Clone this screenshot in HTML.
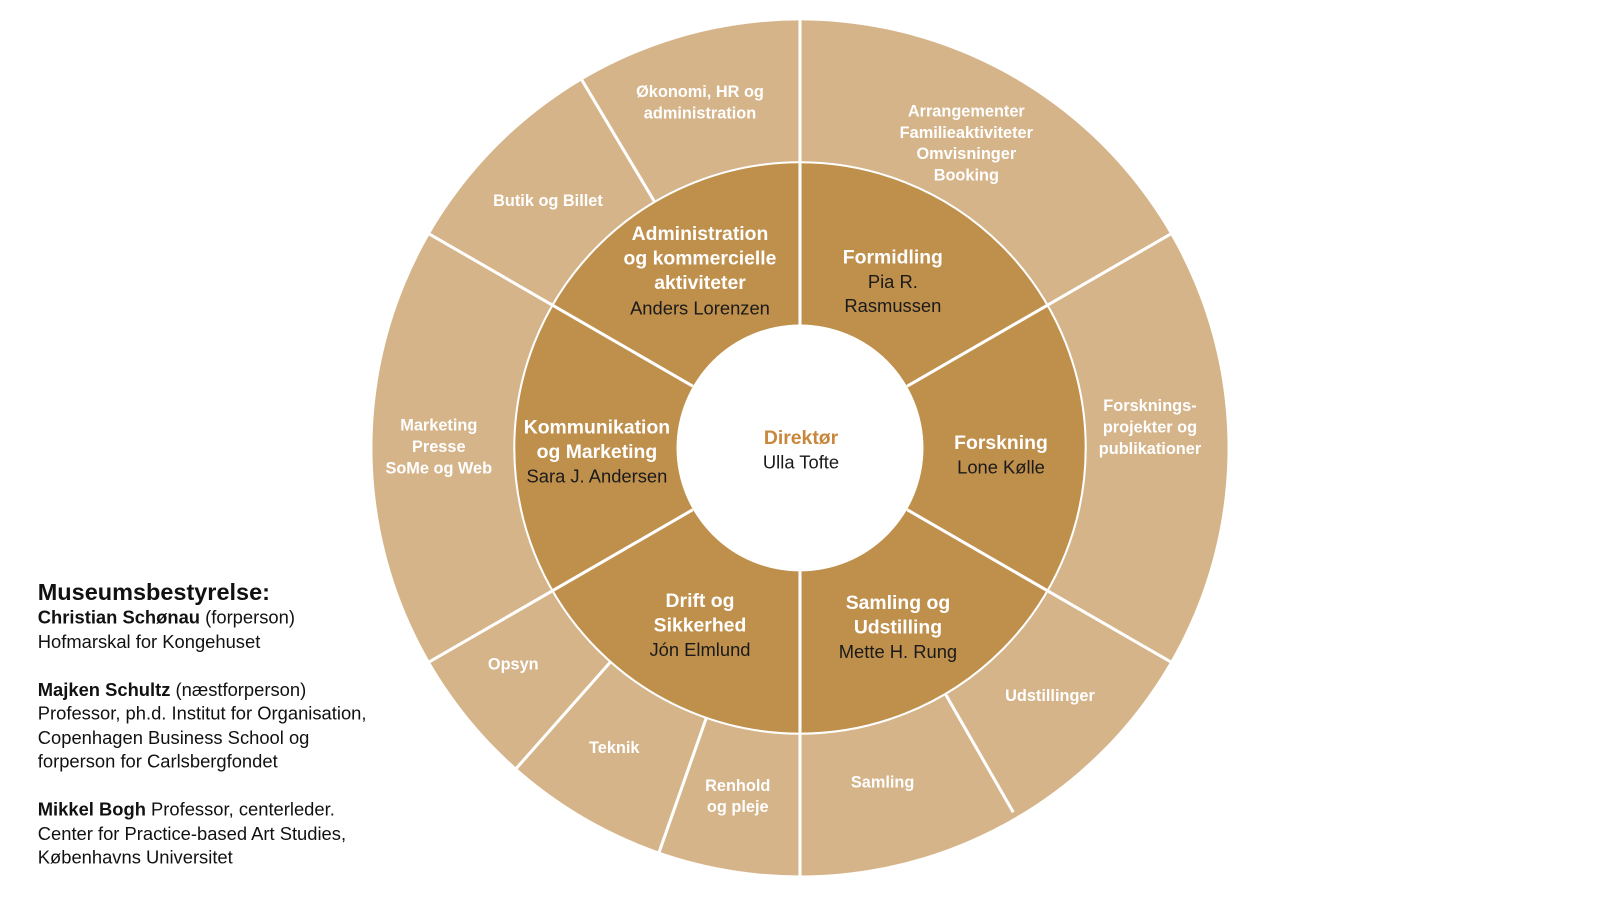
<!DOCTYPE html>
<html><head><meta charset="utf-8"><style>
body{margin:0;width:1600px;height:900px;background:#fff;overflow:hidden;font-family:"Liberation Sans",sans-serif}
#wrap{position:absolute;left:0;top:0;width:1568px;height:882px;transform:scale(1.0204);transform-origin:0 0}
svg{position:absolute;left:0;top:0}
.o{fill:#fff;font-weight:bold;font-size:16px;text-anchor:middle}
.m{fill:#fff;font-weight:bold;font-size:19px;text-anchor:middle}
.n{fill:#1a1a1a;font-size:18px;text-anchor:middle}
#board{position:absolute;left:37px;top:566px;font-size:18px;line-height:23.5px;color:#111}
</style></head><body><div id="wrap">
<svg width="1568" height="882" viewBox="0 0 1568 882">
<circle cx="784" cy="439" r="419" fill="#d5b48a"/>
<circle cx="784" cy="439" r="280" fill="#bf8f4c" stroke="#fff" stroke-width="2"/>
<circle cx="784" cy="439" r="121" fill="#fff"/>
<g stroke="#fff" stroke-width="3">
<line x1="784" y1="318" x2="784" y2="18"/>
<line x1="784" y1="560" x2="784" y2="860"/>
<line x1="889" y1="378.5" x2="1147" y2="229.5"/>
<line x1="889" y1="499.5" x2="1147" y2="648.5"/>
<line x1="679" y1="378.5" x2="421" y2="229.5"/>
<line x1="679" y1="499.5" x2="421" y2="648.5"/>
<line x1="641" y1="197" x2="570" y2="78"/>
<line x1="927" y1="681" x2="993" y2="796"/>
<line x1="598" y1="649" x2="506" y2="753"/>
<line x1="692" y1="704" x2="646" y2="835"/>
</g>
<text class="o" x="686" y="95">Økonomi, HR og</text>
<text class="o" x="686" y="116">administration</text>
<text class="o" x="537" y="202">Butik og Billet</text>
<text class="o" x="947" y="114">Arrangementer</text>
<text class="o" x="947" y="135">Familieaktiviteter</text>
<text class="o" x="947" y="156">Omvisninger</text>
<text class="o" x="947" y="177">Booking</text>
<text class="o" x="1127" y="403">Forsknings-</text>
<text class="o" x="1127" y="424">projekter og</text>
<text class="o" x="1127" y="445">publikationer</text>
<text class="o" x="430" y="422">Marketing</text>
<text class="o" x="430" y="443">Presse</text>
<text class="o" x="430" y="464">SoMe og Web</text>
<text class="o" x="503" y="656">Opsyn</text>
<text class="o" x="602" y="738">Teknik</text>
<text class="o" x="723" y="775">Renhold</text>
<text class="o" x="723" y="796">og pleje</text>
<text class="o" x="865" y="772">Samling</text>
<text class="o" x="1029" y="687">Udstillinger</text>
<text class="m" x="686" y="235">Administration</text>
<text class="m" x="686" y="259">og kommercielle</text>
<text class="m" x="686" y="283">aktiviteter</text>
<text class="n" x="686" y="308">Anders Lorenzen</text>
<text class="m" x="875" y="258">Formidling</text>
<text class="n" x="875" y="282">Pia R.</text>
<text class="n" x="875" y="306">Rasmussen</text>
<text class="m" x="585" y="425">Kommunikation</text>
<text class="m" x="585" y="449">og  Marketing</text>
<text class="n" x="585" y="473">Sara J. Andersen</text>
<text class="m" x="981" y="440">Forskning</text>
<text class="n" x="981" y="464">Lone Kølle</text>
<text class="m" x="686" y="595">Drift og</text>
<text class="m" x="686" y="619">Sikkerhed</text>
<text class="n" x="686" y="643">Jón Elmlund</text>
<text class="m" x="880" y="597">Samling og</text>
<text class="m" x="880" y="621">Udstilling</text>
<text class="n" x="880" y="645">Mette H. Rung</text>
<text class="m" x="785" y="435" style="fill:#c8873c">Direktør</text>
<text class="n" x="785" y="459">Ulla Tofte</text>
</svg>
<div id="board"><div style="font-weight:bold;font-size:23px;line-height:28px">Museumsbestyrelse:</div>
<b>Christian Schønau</b> (forperson)<br>Hofmarskal for Kongehuset<br><br>
<b>Majken Schultz</b> (næstforperson)<br>Professor, ph.d. Institut for Organisation,<br>Copenhagen Business School og<br>forperson for Carlsbergfondet<br><br>
<b>Mikkel Bogh</b> Professor, centerleder.<br>Center for Practice-based Art Studies,<br>Københavns Universitet</div>
</div></body></html>
